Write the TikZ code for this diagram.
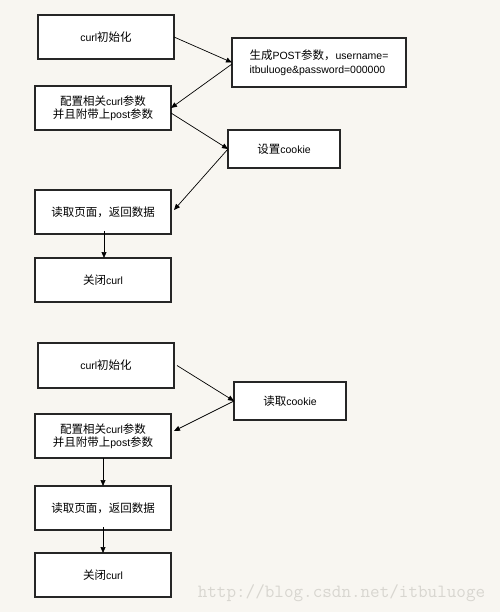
\documentclass[tikz,border=0pt]{standalone}
\usepackage{fontspec}
\setmainfont{Liberation Sans}
\newfontfamily\cjk{Noto Sans CJK SC}
\usetikzlibrary{arrows.meta,calc}
\definecolor{bg}{HTML}{F8F6F1}
\definecolor{wm}{HTML}{D8D6D0}
\newcommand{\zh}[1]{{\cjk\fontsize{11.5}{13}\selectfont #1}}
\begin{document}
\begin{tikzpicture}[x=1pt,y=-1pt,
  box/.style={draw=black!85,line width=1.1pt,fill=white,inner sep=0pt,outer sep=0pt,
    minimum width=136pt,minimum height=44pt,align=center,
    font=\fontsize{10.5}{14}\selectfont},
  conn/.style={draw=black,line width=0.7pt,-{Triangle[length=6pt,width=5pt]}}]
\fill[bg] (0,0) rectangle (500,612);
\useasboundingbox (0,0) rectangle (500,612);
% top flow
\node[box] (b1) at (106,37) {curl\zh{初始化}};
\node[box,minimum width=174pt,minimum height=49pt,align=left] (b2) at (319,62.5)
  {\zh{生成}POST\zh{参数，}username=\\itbuluoge\&password=000000};
\node[box,font=\fontsize{10.5}{13.5}\selectfont] (b3) at (103,108) {\zh{配置相关}curl\zh{参数}\\\zh{并且附带上}post\zh{参数}};
\node[box,minimum width=112pt,minimum height=38pt] (b4) at (284,149) {\zh{设置}cookie};
\node[box] (b5) at (103,212) {\zh{读取页面，返回数据}};
\node[box] (b6) at (103,280) {\zh{关闭}curl};
\draw[conn] (b1.east) -- (b2.west);
\draw[conn] ($(b2.west)+(0,1.5)$) -- (b3.east);
\draw[conn] ($(b3.east)+(0,5)$) -- (b4.west);
\draw[conn] (b4.west) -- ($(b5.east)+(3,-2)$);
\draw[conn] ($(b5.south)+(1,-3)$) -- ($(b6.north)+(1,0)$);
% bottom flow
\node[box,minimum height=45pt] (c1) at (106,365.5) {curl\zh{初始化}};
\node[box,minimum width=112pt,minimum height=38pt] (c2) at (290,401) {\zh{读取}cookie};
\node[box,font=\fontsize{10.5}{13.5}\selectfont] (c3) at (103,436) {\zh{配置相关}curl\zh{参数}\\\zh{并且附带上}post\zh{参数}};
\node[box] (c4) at (103,508) {\zh{读取页面，返回数据}};
\node[box] (c5) at (103,575) {\zh{关闭}curl};
\draw[conn] ($(c1.east)+(3,0)$) -- (c2.west);
\draw[conn] (c2.west) -- ($(c3.east)+(3,-5)$);
\draw[conn] (c3.south) -- (c4.north);
\draw[conn] ($(c4.south)+(0,-3)$) -- (c5.north);
% watermark
\node[text=wm,font=\ttfamily\fontsize{18.6}{20}\selectfont,inner sep=0pt] (wmk) at (341.5,593) {http://blog.csdn.net/itbuluoge};
\end{tikzpicture}
\end{document}
